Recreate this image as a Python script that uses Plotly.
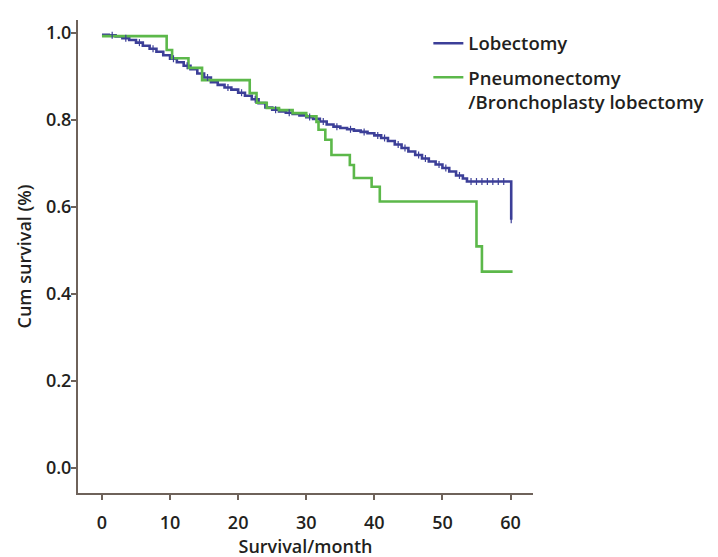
import plotly.graph_objects as go

# ---- data ----
lob_time = [0, 1, 2, 3, 4, 5, 6, 7, 8, 9, 10, 11, 12, 13, 14, 15, 16, 17, 18, 19,
            20, 21, 22, 23, 24, 25, 26, 27, 28, 29, 30, 31, 32, 33, 34, 35, 36, 37,
            38, 39, 40, 41, 42, 43, 44, 45, 46, 47, 48, 49, 50, 51, 52, 53, 53.6, 60.1]
lob_surv = [0.995, 0.994, 0.991, 0.987, 0.983, 0.977, 0.970, 0.963, 0.956, 0.948,
            0.940, 0.932, 0.924, 0.916, 0.906, 0.897, 0.886, 0.880, 0.874, 0.869,
            0.862, 0.855, 0.847, 0.838, 0.828, 0.823, 0.819, 0.816, 0.813, 0.810,
            0.806, 0.802, 0.796, 0.789, 0.784, 0.781, 0.778, 0.775, 0.772, 0.769,
            0.764, 0.758, 0.751, 0.743, 0.735, 0.727, 0.719, 0.711, 0.704, 0.697,
            0.689, 0.681, 0.672, 0.665, 0.658, 0.570]
lob_censor = [1.5, 3.5, 5.5, 7.5, 10.5, 12.5, 15.5, 18.5, 20.5, 22.5, 25.5, 27.5,
              30.5, 32.5, 34.5, 36.5, 38.5, 40.5, 41.5, 43.5, 44.5, 46.5, 47.5,
              49.5, 50.5, 52.5, 54.2, 55.0, 55.8, 56.6, 57.4, 58.2, 59.0, 60.1]

pn_time = [0, 9.5, 10.3, 12.7, 14.7, 21.7, 22.7, 24.2, 26, 28, 30, 31.5, 31.8, 32.8,
           33.7, 36.4, 37.0, 39.6, 40.8, 55.0, 55.8, 60.3]
pn_surv = [0.992, 0.960, 0.941, 0.919, 0.891, 0.861, 0.839, 0.827, 0.822, 0.815,
           0.808, 0.795, 0.777, 0.754, 0.719, 0.696, 0.666, 0.646, 0.612, 0.509,
           0.451, 0.451]

x_ticks = [0, 10, 20, 30, 40, 50, 60]
y_ticks = [0.0, 0.2, 0.4, 0.6, 0.8, 1.0]
y_tick_text = ["0.0", "0.2", "0.4", "0.6", "0.8", "1.0"]

BLUE = "#3c3f98"
GREEN = "#5cb84a"
AXIS = "#6e625a"
TXT = "#231f20"
FONT = "Open Sans"


def step_value(times, surv, t):
    v = surv[0]
    for ti, si in zip(times, surv):
        if ti <= t:
            v = si
    return v


fig = go.Figure()

fig.add_trace(go.Scatter(
    x=lob_time, y=lob_surv, mode="lines", line=dict(shape="hv", color=BLUE, width=2.6),
    name="Lobectomy", legendgroup="a"))
fig.add_trace(go.Scatter(
    x=pn_time, y=pn_surv, mode="lines", line=dict(shape="hv", color=GREEN, width=2.6),
    name="Pneumonectomy<br>/Bronchoplasty lobectomy", legendgroup="b"))
fig.add_trace(go.Scatter(
    x=lob_censor, y=[step_value(lob_time, lob_surv, t) for t in lob_censor],
    mode="markers", showlegend=False,
    marker=dict(symbol="line-ns-open", size=5, color=BLUE,
                line=dict(color=BLUE, width=1.2))))

fig.update_layout(
    width=718, height=557,
    margin=dict(l=70, r=193, t=12, b=72),
    plot_bgcolor="white", paper_bgcolor="white",
    font=dict(family=FONT, color=TXT, size=18, weight=600),
    showlegend=True,
    legend=dict(x=0.77, y=0.99, xanchor="left", yanchor="top",
                bgcolor="rgba(0,0,0,0)", font=dict(size=18.5, family=FONT, color=TXT, weight=600),
                tracegroupgap=7, itemwidth=30, valign="top"),
    xaxis=dict(range=[-3.52, 63.3], tickvals=x_ticks, ticks="outside", ticklen=5,
               tickwidth=1.5, tickcolor=AXIS, showline=True, linecolor=AXIS, linewidth=2,
               showgrid=False, zeroline=False, ticklabelstandoff=7,
               title=dict(text="Survival/month", standoff=2, font=dict(size=18)),
               tickfont=dict(size=18)),
    yaxis=dict(range=[-0.0574, 1.029], tickvals=y_ticks, ticktext=y_tick_text,
               ticks="outside", ticklen=5, tickwidth=1.5, tickcolor=AXIS,
               showline=True, linecolor=AXIS, linewidth=2, showgrid=False, zeroline=False,
               ticklabelstandoff=-4,
               title=dict(text="Cum survival (%)", standoff=10, font=dict(size=18)),
               tickfont=dict(size=18)),
)

fig.write_html("out.html")
